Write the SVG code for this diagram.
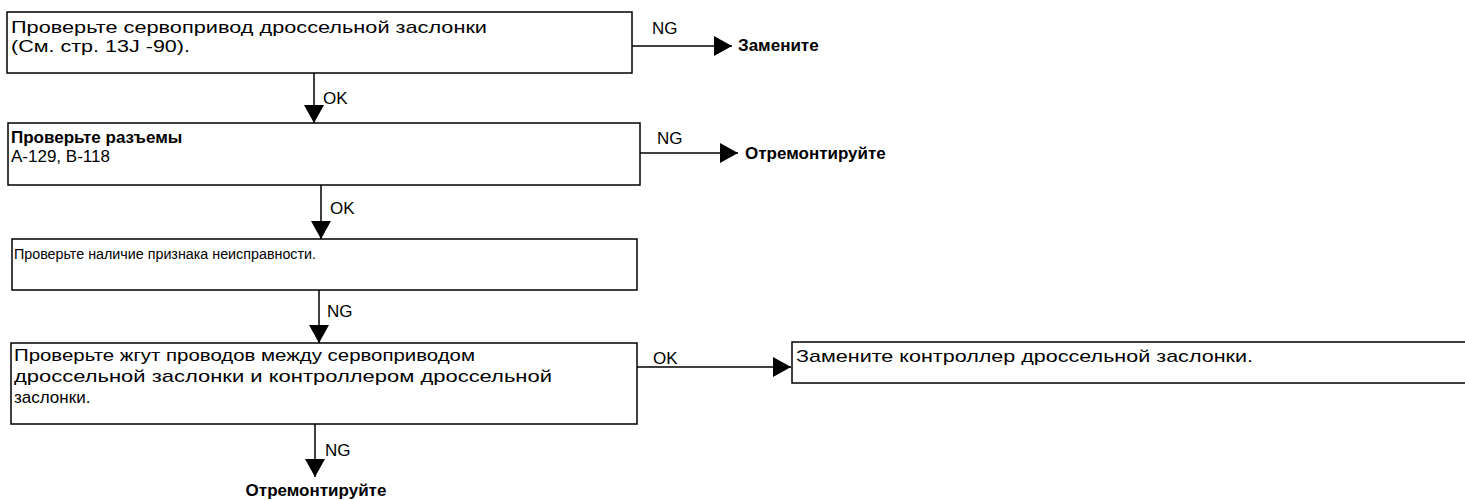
<svg xmlns="http://www.w3.org/2000/svg" width="1465" height="500" viewBox="0 0 1465 500">
  <style>
    .box { fill: #fff; stroke: #000; stroke-width: 1.5; }
    .t { font-family: "Liberation Sans", Arial, sans-serif; font-size: 17px; fill: #000; }
    .b { font-weight: bold; }
    .wire { stroke: #000; stroke-width: 1.5; fill: none; }
  </style>
  <defs>
    <marker id="head" markerWidth="18" markerHeight="20" refX="18" refY="10" orient="auto" markerUnits="userSpaceOnUse">
      <path d="M0,0 L18,10 L0,20 Z" fill="#000"/>
    </marker>
  </defs>
  <rect width="1465" height="500" fill="#fff"/>

  <g id="connectors">
    <line class="wire" x1="314" y1="73" x2="314" y2="123" marker-end="url(#head)"/>
    <line class="wire" x1="632" y1="46" x2="732" y2="46" marker-end="url(#head)"/>
    <line class="wire" x1="321" y1="185" x2="321" y2="239" marker-end="url(#head)"/>
    <line class="wire" x1="640" y1="153" x2="738" y2="153" marker-end="url(#head)"/>
    <line class="wire" x1="319" y1="290" x2="319" y2="343" marker-end="url(#head)"/>
    <line class="wire" x1="637" y1="367" x2="791" y2="367" marker-end="url(#head)"/>
    <line class="wire" x1="315" y1="424" x2="315" y2="477" marker-end="url(#head)"/>
    <text class="t" x="323" y="104">OK</text>
    <text class="t" x="652" y="34">NG</text>
    <text class="t" x="657" y="144">NG</text>
    <text class="t" x="330" y="214">OK</text>
    <text class="t" x="327" y="317">NG</text>
    <text class="t" x="653" y="364">OK</text>
    <text class="t" x="325" y="456">NG</text>
  </g>

  <g id="check-servo">
    <rect class="box" x="7" y="12" width="625" height="61"/>
    <text class="t" x="11" y="33" textLength="476" lengthAdjust="spacingAndGlyphs">Проверьте сервопривод дроссельной заслонки</text>
    <text class="t" x="11" y="52" textLength="179" lengthAdjust="spacingAndGlyphs">(См. стр. 13J -90).</text>
  </g>

  <g id="replace-servo">
    <text class="t b" x="738" y="51">Замените</text>
  </g>

  <g id="check-connectors">
    <rect class="box" x="8" y="123" width="632" height="62"/>
    <text class="t b" x="11" y="143">Проверьте разъемы</text>
    <text class="t" x="11" y="162">A-129, B-118</text>
  </g>

  <g id="repair-connectors">
    <text class="t b" x="745" y="159">Отремонтируйте</text>
  </g>

  <g id="check-symptom">
    <rect class="box" x="12" y="239" width="625" height="51"/>
    <text class="t" x="14" y="259" style="font-size:15.5px" textLength="302" lengthAdjust="spacingAndGlyphs">Проверьте наличие признака неисправности.</text>
  </g>

  <g id="check-harness">
    <rect class="box" x="11" y="343" width="626" height="81"/>
    <text class="t" x="14" y="361" textLength="461" lengthAdjust="spacingAndGlyphs">Проверьте жгут проводов между сервоприводом</text>
    <text class="t" x="14" y="382" textLength="538" lengthAdjust="spacingAndGlyphs">дроссельной заслонки и контроллером дроссельной</text>
    <text class="t" x="14" y="403">заслонки.</text>
  </g>

  <g id="replace-controller">
    <rect class="box" x="792" y="342" width="700" height="41"/>
    <text class="t" x="796" y="362" textLength="457" lengthAdjust="spacingAndGlyphs">Замените контроллер дроссельной заслонки.</text>
  </g>

  <g id="repair-harness">
    <text class="t b" x="316" y="496" text-anchor="middle">Отремонтируйте</text>
  </g>
</svg>
